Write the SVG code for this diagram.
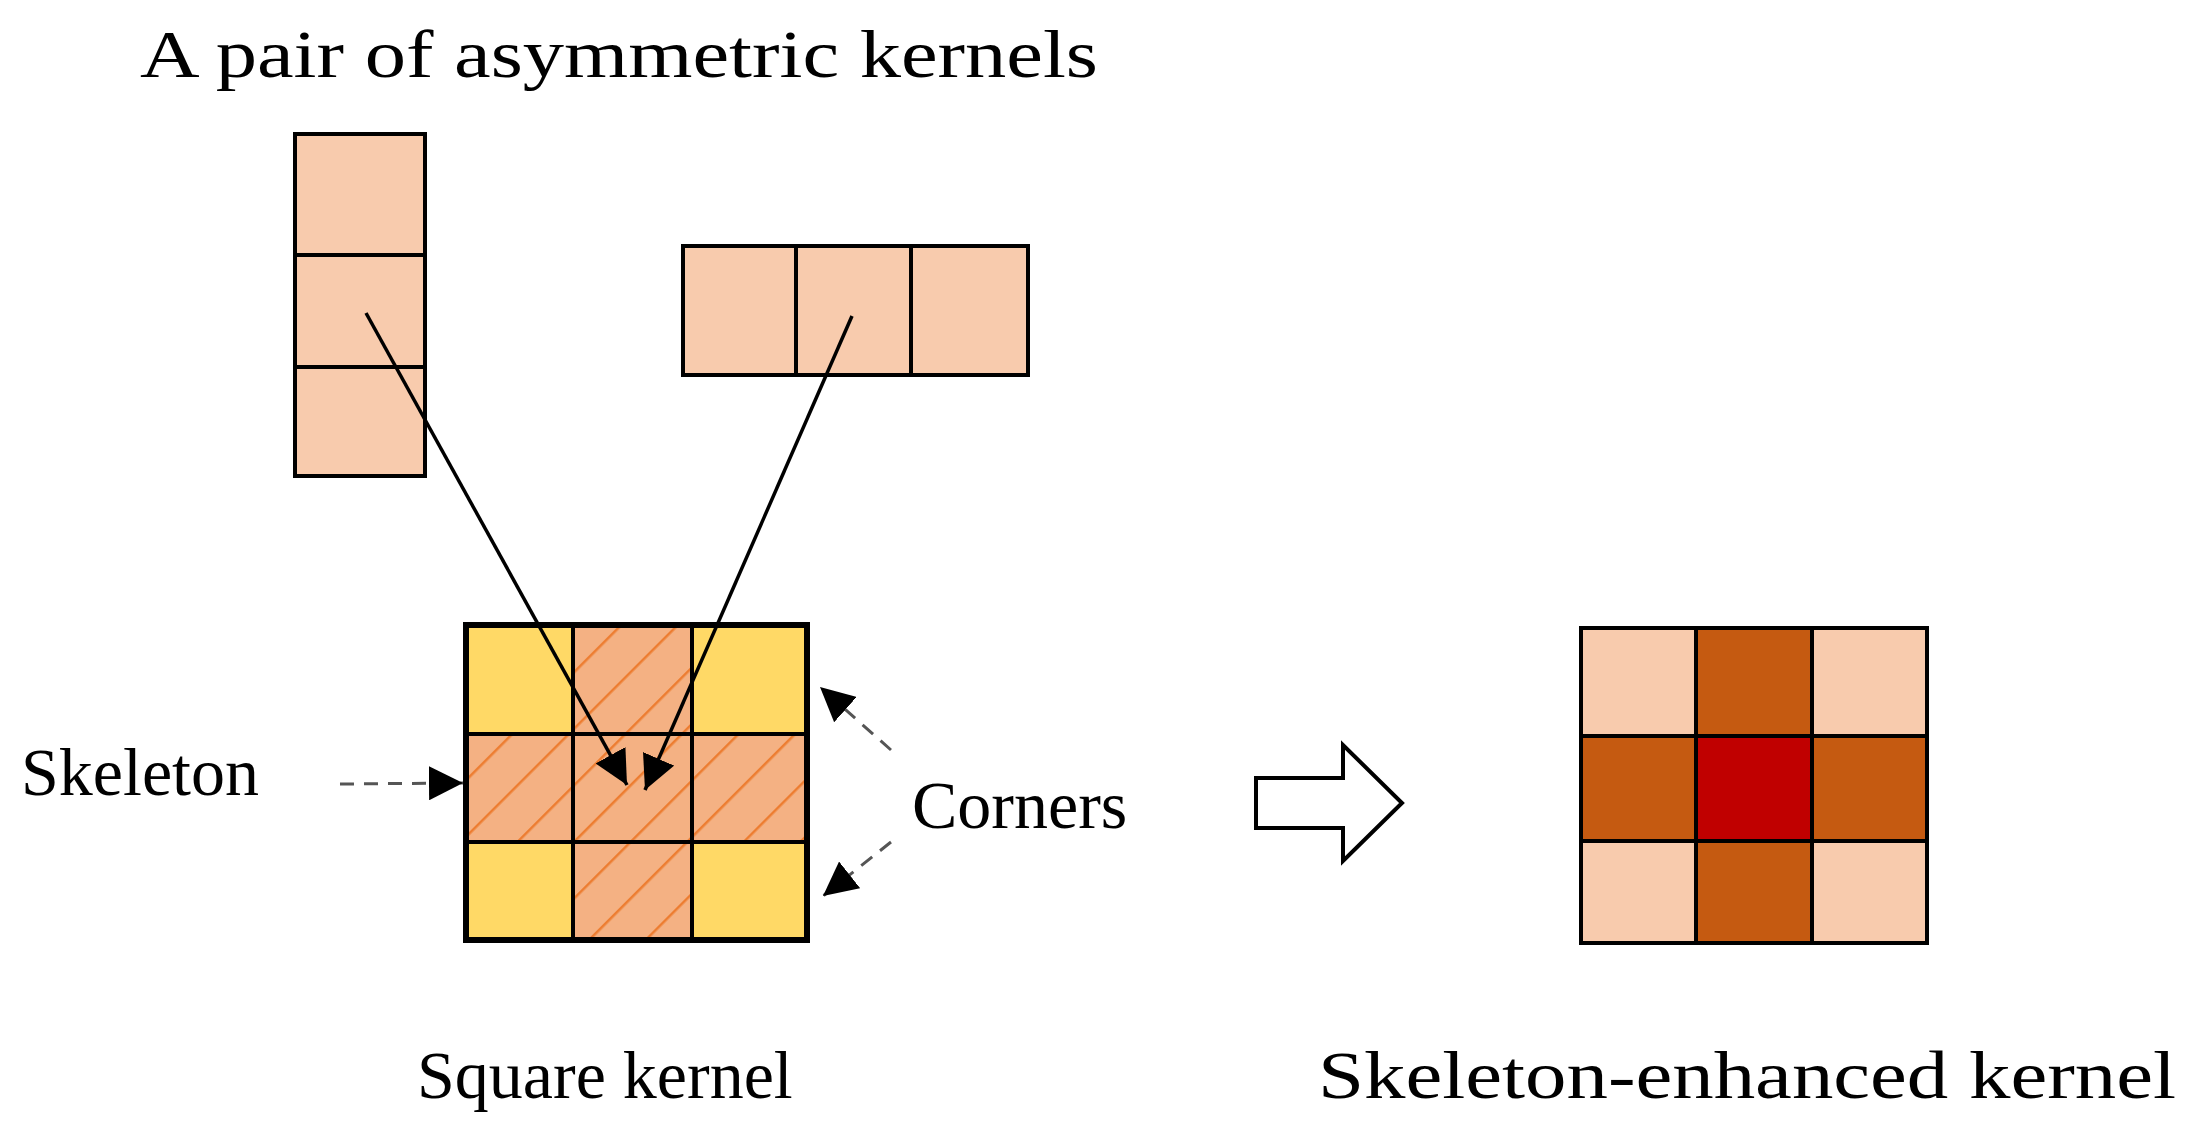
<svg xmlns="http://www.w3.org/2000/svg" width="2194" height="1141" viewBox="0 0 2194 1141">
<style>
.t{font-family:"Liberation Serif",serif;font-size:68px;fill:#000}
.c{stroke:#000;stroke-width:4}
.l{fill:#F8CBAD}
.y{fill:#FFD966}
.h{fill:url(#hatch)}
.dash{stroke:#555;stroke-width:3;stroke-dasharray:14 10;fill:none}
</style>
<defs>
<pattern id="hatch" width="40" height="40" patternUnits="userSpaceOnUse" patternTransform="rotate(45)">
<rect width="40" height="40" fill="#F4B183"/>
<line x1="0" y1="0" x2="0" y2="40" stroke="#ED7D31" stroke-width="5"/>
</pattern>
<marker id="ah" markerWidth="10" markerHeight="10" refX="9" refY="5" orient="auto" markerUnits="userSpaceOnUse" viewBox="0 0 10 10">
</marker>
<marker id="a" viewBox="0 0 10 10" refX="10" refY="5" markerWidth="34" markerHeight="34" markerUnits="userSpaceOnUse" orient="auto"><path d="M0,0 L10,5 L0,10 z" fill="#000"/></marker>
</defs>
<text class="t" x="140" y="77" textLength="958" lengthAdjust="spacingAndGlyphs">A pair of asymmetric kernels</text>
<g id="vkernel" class="c">
<rect class="l" x="295" y="134" width="130" height="121"/>
<rect class="l" x="295" y="255" width="130" height="112"/>
<rect class="l" x="295" y="367" width="130" height="109"/>
</g>
<g id="hkernel" class="c">
<rect class="l" x="683" y="246" width="113" height="129"/>
<rect class="l" x="796" y="246" width="115" height="129"/>
<rect class="l" x="911" y="246" width="117" height="129"/>
</g>
<g id="square" class="c">
<rect class="y" x="466" y="625" width="107" height="109"/>
<rect class="h" x="573" y="625" width="119" height="109"/>
<rect class="y" x="692" y="625" width="115" height="109"/>
<rect class="h" x="466" y="734" width="107" height="108"/>
<rect class="h" x="573" y="734" width="119" height="108"/>
<rect class="h" x="692" y="734" width="115" height="108"/>
<rect class="y" x="466" y="842" width="107" height="98"/>
<rect class="h" x="573" y="842" width="119" height="98"/>
<rect class="y" x="692" y="842" width="115" height="98"/>
<rect x="466" y="625" width="341" height="315" fill="none" stroke-width="6"/>
</g>
<g id="enhanced" class="c">
<rect class="l" x="1581" y="628" width="115" height="108"/>
<rect fill="#C55A11" x="1696" y="628" width="116" height="108"/>
<rect class="l" x="1812" y="628" width="115" height="108"/>
<rect fill="#C55A11" x="1581" y="736" width="115" height="105"/>
<rect fill="#C00000" x="1696" y="736" width="116" height="105"/>
<rect fill="#C55A11" x="1812" y="736" width="115" height="105"/>
<rect class="l" x="1581" y="841" width="115" height="102"/>
<rect fill="#C55A11" x="1696" y="841" width="116" height="102"/>
<rect class="l" x="1812" y="841" width="115" height="102"/>
</g>
<g id="connectors">
<line x1="366" y1="313" x2="627" y2="785" stroke="#000" stroke-width="3.5" marker-end="url(#a)"/>
<line x1="852" y1="316" x2="645" y2="790" stroke="#000" stroke-width="3.5" marker-end="url(#a)"/>
<line class="dash" x1="340" y1="784" x2="463" y2="783" marker-end="url(#a)"/>
<line class="dash" x1="891" y1="750" x2="820" y2="687" marker-end="url(#a)"/>
<line class="dash" x1="891" y1="842" x2="823" y2="896" marker-end="url(#a)"/>
<path d="M1256,778 H1343 V745 L1402,803 L1343,861 V828 H1256 Z" fill="#fff" stroke="#000" stroke-width="4"/>
</g>
<text class="t" x="21" y="795">Skeleton</text>
<text class="t" x="912" y="828">Corners</text>
<text class="t" x="417" y="1098">Square kernel</text>
<text class="t" x="1318" y="1098" textLength="858" lengthAdjust="spacingAndGlyphs">Skeleton-enhanced kernel</text>
</svg>
